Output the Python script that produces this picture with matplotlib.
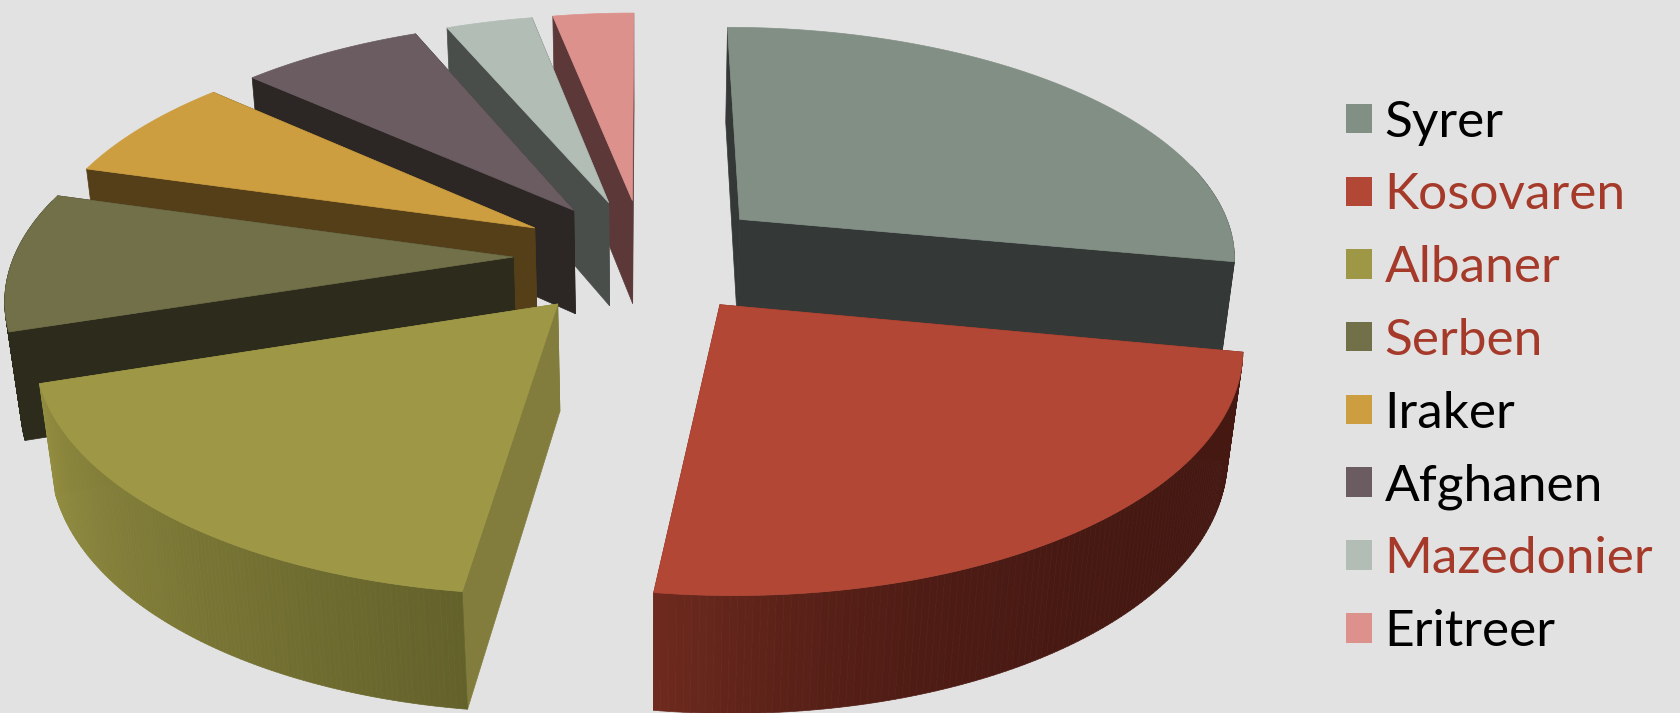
import numpy as np
import matplotlib
matplotlib.use('Agg')
import matplotlib.pyplot as plt
from matplotlib.collections import PolyCollection
from matplotlib.colors import to_rgb
from matplotlib.patches import Patch, Polygon

# --- Data ---
labels = ['Syrer', 'Kosovaren', 'Albaner', 'Serben', 'Iraker', 'Afghanen', 'Mazedonier', 'Eritreer']
shares = [28.0, 24.1, 17.9, 9.45, 7.22, 6.95, 3.3, 3.08]
top_colors = ['#828F85', '#B34735', '#9E9846', '#727049', '#CC9E3F', '#6A5C61', '#B1BDB5', '#DC918C']
cut_colors = ['#343938', '#6E2A1E', '#827D3C', '#2D2C1C', '#553F18', '#2C2625', '#4A4E4A', '#5C3838']
rim_start = ['#343938', '#451812', '#64622B', '#2D2C1C', '#553F18', '#2C2625', '#4A4E4A', '#5C3838']
rim_end = ['#343938', '#6E2A1E', '#928D40', '#2D2C1C', '#553F18', '#2C2625', '#4A4E4A', '#5C3838']
label_colors = ['black', '#A63A2A', '#A63A2A', '#A63A2A', 'black', 'black', '#A63A2A', 'black']

# --- Pie geometry (pixels) ---
cx, cy = 644, 256
radius, squash = 499, 231
thickness = 108
explode = [0.255, 0.252, 0.262, 0.262, 0.255, 0.25, 0.25, 0.25]
rim_power = [1, 4, 1, 1, 1, 1, 1, 1]
persp_y, persp_z = 0.15, 0.025


def project(x, y, z):
    # z is 0 on the top face and 1 on the underside
    s = 1.0 / (1 + persp_y * y + persp_z * z)
    return cx + radius * x * s, cy - squash * y * s + thickness * z * s


def wedge_outline(a0, a1, z, dx, dy):
    t = np.linspace(a0, a1, 80)
    px, py = project(dx + np.sin(t), dy + np.cos(t), z)
    ax0, ay0 = project(dx, dy, z)
    return np.column_stack([np.r_[ax0, px], np.r_[ay0, py]])


def radial_face(a, dx, dy):
    pts = [(dx, dy, 0), (dx + np.sin(a), dy + np.cos(a), 0),
           (dx + np.sin(a), dy + np.cos(a), 1), (dx, dy, 1)]
    return np.array([project(*p) for p in pts])


fig = plt.figure(figsize=(16.8, 7.13), dpi=100, facecolor='#E2E2E2')
ax = fig.add_axes([0, 0, 1, 1])
ax.set_xlim(0, 1680)
ax.set_ylim(713, 0)
ax.axis('off')

edges = np.radians(np.r_[0, np.cumsum(shares)] * 360 / sum(shares))

# Back slices first, the two big front-right ones last
draw_order = [7, 6, 5, 4, 3, 2, 0, 1]
for z_base, i in enumerate(draw_order):
    a0, a1 = edges[i], edges[i + 1]
    mid = (a0 + a1) / 2
    dx, dy = explode[i] * np.sin(mid), explode[i] * np.cos(mid)
    zo = 2 + z_base * 3

    # Cut faces
    for a in (a0, a1):
        ax.add_patch(Polygon(radial_face(a, dx, dy), closed=True, fc=cut_colors[i],
                             ec=cut_colors[i], lw=0.5, zorder=zo))

    # Outer rim as small shaded strips
    t = np.linspace(a0, a1, 121)
    quads, cols = [], []
    c0, c1 = np.array(to_rgb(rim_start[i])), np.array(to_rgb(rim_end[i]))
    for j in range(len(t) - 1):
        if np.cos((t[j] + t[j + 1]) / 2) > 0.25:
            continue
        xa, ya = dx + np.sin(t[j]), dy + np.cos(t[j])
        xb, yb = dx + np.sin(t[j + 1]), dy + np.cos(t[j + 1])
        quads.append([project(xa, ya, 0), project(xb, yb, 0), project(xb, yb, 1), project(xa, ya, 1)])
        f = (j / (len(t) - 2)) ** rim_power[i]
        cols.append(c0 + (c1 - c0) * f)
    if quads:
        ax.add_collection(PolyCollection(quads, facecolors=cols, edgecolors=cols, linewidths=0.5, zorder=zo + 1))

    # Top face
    ax.add_patch(Polygon(wedge_outline(a0, a1, 0, dx, dy), closed=True, fc=top_colors[i],
                         ec=top_colors[i], lw=0.5, zorder=zo + 2))

# --- Legend ---
handles = [Patch(facecolor=c, linewidth=0) for c in top_colors]
leg = ax.legend(handles, labels, loc='upper left', bbox_to_anchor=(0.801, 0.86), frameon=False,
                prop={'family': 'Lato', 'size': 37}, labelspacing=0.519, handlelength=0.506,
                handleheight=0.506, handletextpad=0.25, borderpad=0, borderaxespad=0)
for txt, c in zip(leg.get_texts(), label_colors):
    txt.set_color(c)

fig.savefig('out.png', dpi=100, facecolor=fig.get_facecolor())
